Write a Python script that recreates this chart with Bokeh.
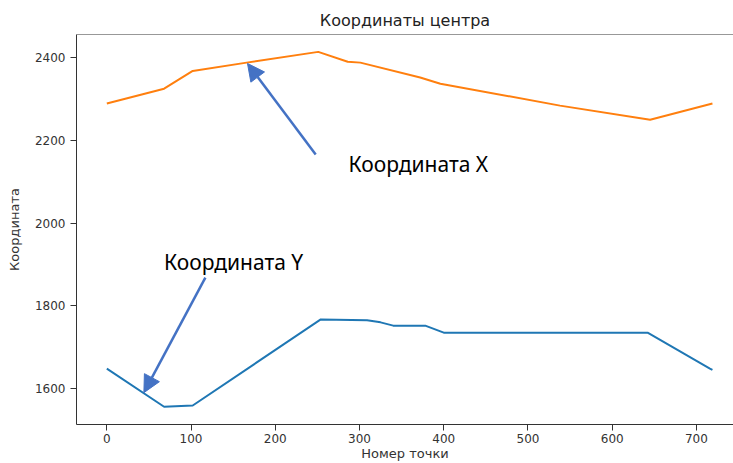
from bokeh.plotting import figure
from bokeh.models import Range1d, FixedTicker, Label, Arrow, NormalHead, Span
from bokeh.embed import file_html
from bokeh.resources import INLINE

# Data
x_idx = [0, 68, 102, 166, 251, 286, 301, 372, 396, 538, 645, 719]
x_coord = [2289, 2325, 2368, 2388, 2414, 2390, 2388, 2352, 2337, 2284, 2250, 2289]

y_idx = [0, 68, 102, 254, 309, 325, 340, 378, 400, 432, 642, 716, 719]
y_coord = [1648, 1556, 1559, 1767, 1765, 1760, 1752, 1752, 1735, 1735, 1735, 1648, 1645]

x_ticks = [0, 100, 200, 300, 400, 500, 600, 700]
y_ticks = [1600, 1800, 2000, 2200, 2400]

title_text = "Координаты центра"
xlabel = "Номер точки"
ylabel = "Координата"
ann_x = "Координата X"
ann_y = "Координата Y"

X0, X1 = -36, 744
Y0, Y1 = 1513, 2456

p = figure(width=733, height=463, output_backend="svg", toolbar_location=None,
           x_range=Range1d(X0, X1), y_range=Range1d(Y0, Y1),
           min_border_left=76, min_border_right=0, min_border_top=34,
           min_border_bottom=39)
p.outline_line_color = None
p.grid.visible = False
p.background_fill_color = "white"
p.border_fill_color = "white"

p.title.text = title_text
p.title.align = "center"
p.title.text_font = "DejaVu Sans"
p.title.text_font_size = "16px"
p.title.text_font_style = "normal"
p.title.text_color = "#222222"
p.title.offset = 4
p.title.standoff = 9

for ax in (p.xaxis[0], p.yaxis[0]):
    ax.axis_line_color = "#333333"
    ax.major_tick_line_color = "#333333"
    ax.major_tick_out = 6
    ax.major_tick_in = 0
    ax.minor_tick_line_color = None
    ax.major_label_text_font = "DejaVu Sans"
    ax.major_label_text_font_size = "12px"
    ax.major_label_text_color = "#333333"
    ax.major_label_standoff = 5

p.xaxis.major_label_standoff = 3
p.xaxis.ticker = FixedTicker(ticks=x_ticks)
p.yaxis.ticker = FixedTicker(ticks=y_ticks)

p.yaxis.axis_label = ylabel
p.yaxis.axis_label_text_font = "DejaVu Sans"
p.yaxis.axis_label_text_font_size = "13px"
p.yaxis.axis_label_text_font_style = "normal"
p.yaxis.axis_label_text_color = "#333333"
p.yaxis.axis_label_standoff = 10

p.xaxis.axis_label = xlabel
p.xaxis.axis_label_text_font = "DejaVu Sans"
p.xaxis.axis_label_text_font_size = "13px"
p.xaxis.axis_label_text_font_style = "normal"
p.xaxis.axis_label_text_color = "#333333"
p.xaxis.axis_label_standoff = 0

# top spine
p.add_layout(Span(location=Y1, dimension="width", line_color="#333333", line_width=1))

p.line(x_idx, x_coord, line_color="#ff7f0e", line_width=2)
p.line(y_idx, y_coord, line_color="#1f77b4", line_width=2)

blue = "#4472C4"
p.add_layout(Arrow(end=NormalHead(size=17, fill_color=blue, line_color=blue),
                   x_start=248, y_start=2166, x_end=167, y_end=2386,
                   line_color=blue, line_width=2.5))
p.add_layout(Arrow(end=NormalHead(size=17, fill_color=blue, line_color=blue),
                   x_start=117, y_start=1868, x_end=44, y_end=1590,
                   line_color=blue, line_width=2.5))

p.add_layout(Label(x=287, y=2144, text=ann_x, text_align="left", text_baseline="middle",
                   text_font="Noto Sans", text_font_size="21px", text_color="black"))
p.add_layout(Label(x=68, y=1907, text=ann_y, text_align="left", text_baseline="middle",
                   text_font="Noto Sans", text_font_size="21px", text_color="black"))

open("out.html", "w").write(file_html(p, INLINE))
